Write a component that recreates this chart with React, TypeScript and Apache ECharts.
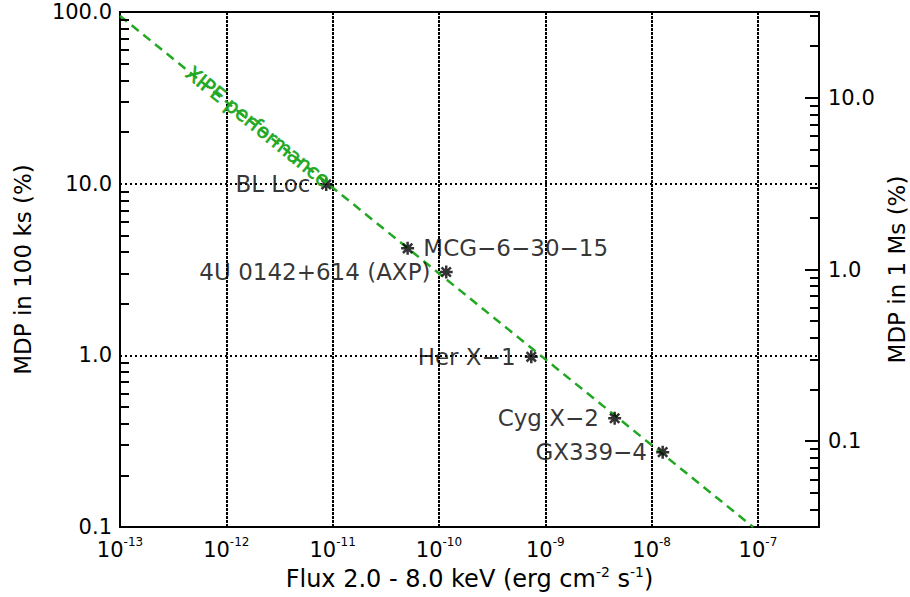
import React, { useEffect, useRef } from "react";
import * as echarts from "echarts";

// ---- data ----
const sourceNames = ["BL Loc", "MCG−6−30−15", "4U 0142+614 (AXP)", "Her X−1", "Cyg X−2", "GX339−4"];
const sourceFlux = [8.7e-12, 5.07e-11, 1.17e-10, 7.38e-10, 4.49e-9, 1.27e-8];
const sourceMdp = [9.9, 4.2, 3.06, 0.98, 0.43, 0.273];
const sourceLabelSide = ["left", "right", "left", "left", "left", "left"];

const perfFlux = [1e-13, 9e-8];
const perfMdp = [94.9, 0.1];
const perfLabel = "XIPE performance";

const xMin = 1e-13;
const xMax = 3.75e-7;
const yMin = 0.1;
const yMax = 100;
const exposureRatio = Math.sqrt(10); // 100 ks -> 1 Ms
const minorMultipliers = [2, 3, 4, 5, 6, 7, 8, 9];
const leftDecades = [0.1, 1, 10];
const rightDecades = [0.01, 0.1, 1, 10];

const FONT = "DejaVu Sans";
const GREEN = "#22a822";
const MINOR_FACTOR = 1.215; // ~9 px along the log flux axis

function fmtY(v: number) {
  const n = Number(v.toPrecision(6));
  return n >= 1 ? n.toFixed(1) : String(n);
}

export default function App() {
  const ref = useRef<HTMLDivElement>(null);
  useEffect(() => {
    if (!ref.current) return;
    const chart = echarts.init(ref.current, undefined, { renderer: "svg" });

    const rMin = yMin / exposureRatio;
    const rMax = yMax / exposureRatio;
    const labelBase = { fontFamily: FONT, fontSize: 21, color: "#000" };

    // minor tick segments expressed in left-axis (100 ks) units
    const minorLines: any[] = [];
    leftDecades.forEach((d) => minorMultipliers.forEach((m) => {
      const v = m * d;
      if (v > yMin && v < yMax) minorLines.push([{ coord: [xMin, v] }, { coord: [xMin * MINOR_FACTOR, v] }]);
    }));
    rightDecades.forEach((d) => minorMultipliers.forEach((m) => {
      const v = m * d;
      if (v > rMin && v < rMax) {
        const lv = v * exposureRatio;
        minorLines.push([{ coord: [xMax / MINOR_FACTOR, lv] }, { coord: [xMax, lv] }]);
      }
    }));

    chart.setOption({
      animation: false,
      backgroundColor: "#fff",
      grid: {
        left: 120, right: 91, top: 12, bottom: 70,
        show: true, borderColor: "#000", borderWidth: 2,
        containLabel: false, outerBoundsMode: "none",
      },
      xAxis: {
        type: "log",
        logBase: 10,
        min: xMin,
        max: xMax,
        name: "Flux 2.0 - 8.0 keV (erg cm{s|-2} s{s|-1})",
        nameLocation: "middle",
        nameGap: 38,
        nameTextStyle: {
          fontFamily: FONT, fontSize: 24, color: "#000",
          rich: { s: { fontFamily: FONT, fontSize: 14, color: "#000", padding: [0, 0, 14, 0] } },
        },
        axisLine: { show: true, lineStyle: { color: "#000", width: 2 } },
        axisTick: { show: false },
        axisLabel: {
          margin: 9,
          showMaxLabel: false,
          formatter: (v: number) => `{b|10}{s|${Math.round(Math.log10(v))}}`,
          rich: {
            b: { fontFamily: FONT, fontSize: 21, color: "#000" },
            s: { fontFamily: FONT, fontSize: 12, color: "#000", padding: [0, 0, 16, 0] },
          },
        },
        splitLine: { show: true, lineStyle: { color: "#000", width: 2, type: [3, 1] } },
      },
      yAxis: [
        {
          type: "log",
          logBase: 10,
          min: yMin,
          max: yMax,
          position: "left",
          name: "MDP in 100 ks (%)",
          nameLocation: "middle",
          nameRotate: 90,
          nameGap: 86,
          nameTextStyle: { fontFamily: FONT, fontSize: 23, color: "#000" },
          axisLine: { show: true, lineStyle: { color: "#000", width: 2 } },
          axisTick: { show: false },
          axisLabel: { ...labelBase, margin: 8, formatter: fmtY },
          splitLine: { show: true, lineStyle: { color: "#000", width: 2, type: [2, 3] } },
        },
        {
          type: "log",
          logBase: 10,
          min: rMin,
          max: rMax,
          position: "right",
          name: "MDP in 1 Ms (%)",
          nameLocation: "middle",
          nameRotate: 90,
          nameGap: 62,
          nameTextStyle: { fontFamily: FONT, fontSize: 23, color: "#000" },
          axisLine: { show: true, lineStyle: { color: "#000", width: 2 } },
          axisTick: { show: true, inside: true, length: 14, lineStyle: { color: "#000", width: 2 } },
          axisLabel: { ...labelBase, margin: 9, showMinLabel: false, showMaxLabel: false, formatter: fmtY },
          splitLine: { show: false },
        },
      ],
      series: [
        {
          type: "line",
          data: perfFlux.map((f, i) => [f, perfMdp[i]]),
          showSymbol: false,
          symbol: "none",
          lineStyle: { color: GREEN, width: 2.5, type: [9, 6] },
          z: 3,
          silent: true,
        },
        {
          type: "scatter",
          symbol: "path://M0,-6L0,6M-6,0L6,0M-4.3,-4.3L4.3,4.3M-4.3,4.3L4.3,-4.3",
          symbolSize: 13,
          itemStyle: { color: "#000", borderColor: "#000", borderWidth: 2.5 },
          label: { show: true, formatter: "{b}", distance: 8, fontFamily: FONT, fontSize: 23, color: "#000" },
          data: sourceNames.map((n, i) => ({
            name: n,
            value: [sourceFlux[i], sourceMdp[i]],
            label: { position: sourceLabelSide[i] },
          })),
          markLine: {
            silent: true,
            symbol: ["none", "none"],
            label: { show: false },
            lineStyle: { color: "#000", width: 2, type: "solid" },
            emphasis: { disabled: true },
            data: minorLines,
          },
          z: 4,
          silent: true,
        },
      ],
    });

    const toPx = (x: number, y: number) =>
      chart.convertToPixel({ xAxisIndex: 0, yAxisIndex: 0 }, [x, y]) as number[];
    const a = toPx(perfFlux[0], perfMdp[0]);
    const b = toPx(perfFlux[1], perfMdp[1]);
    if (a && b) {
      const t = 0.218;
      const cx = a[0] + (b[0] - a[0]) * t;
      const cy = a[1] + (b[1] - a[1]) * t;
      const ang = Math.atan2(b[1] - a[1], b[0] - a[0]);
      chart.setOption({
        graphic: [
          {
            type: "text",
            x: cx,
            y: cy - 1,
            rotation: -ang,
            z: 10,
            style: {
              text: perfLabel,
              fill: GREEN,
              stroke: GREEN,
              lineWidth: 0.6,
              fontFamily: FONT,
              fontSize: 20,
              align: "center",
              verticalAlign: "middle",
              textAlign: "center",
              textVerticalAlign: "middle",
            },
          },
        ],
      });
    }

    return () => chart.dispose();
  }, []);

  return <div ref={ref} style={{ position: "absolute", left: 0, top: 0, width: 910, height: 597 }} />;
}
